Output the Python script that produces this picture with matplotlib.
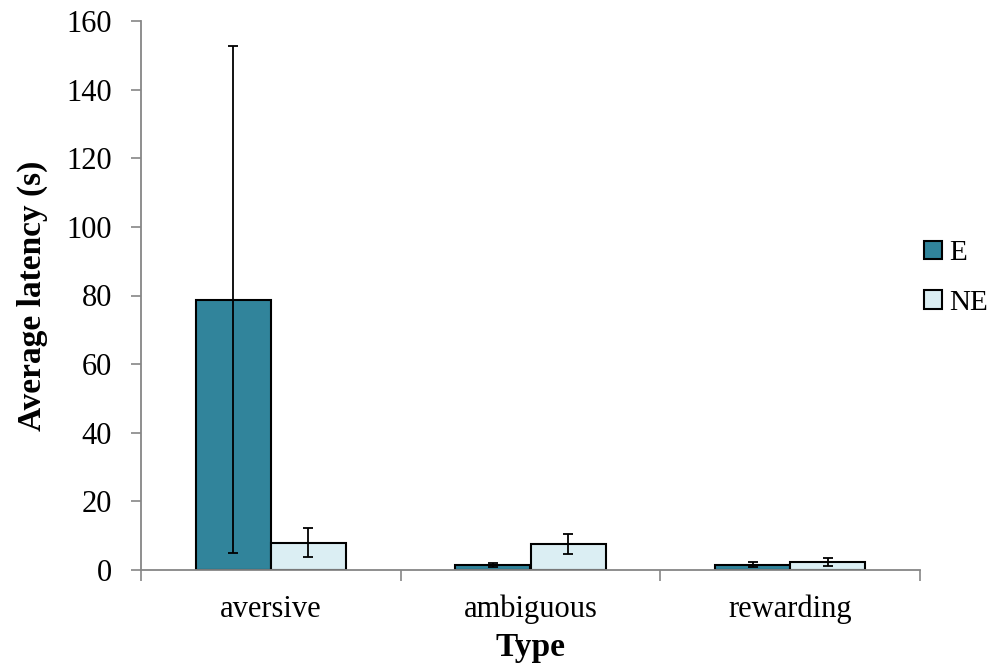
import numpy as np
import matplotlib.pyplot as plt

categories = ['aversive', 'ambiguous', 'rewarding']
e_means = [78.8, 1.4, 1.6]
e_err = [73.8, 0.5, 0.8]
ne_means = [7.9, 7.6, 2.4]
ne_err = [4.2, 2.9, 1.2]

plt.rcParams['font.family'] = ['Liberation Serif', 'DejaVu Serif']

fig = plt.figure(figsize=(9.93, 6.71), dpi=100)
ax = fig.add_axes([141 / 993, 1 - 570 / 671, 779 / 993, 549 / 671])

x = np.arange(len(categories))
w = 0.29
err_kw = dict(ecolor='black', elinewidth=1.3, capsize=3.5, capthick=1.3)
ax.bar(x - w / 2, e_means, w, yerr=e_err, color='#31849B', edgecolor='black',
       linewidth=1.5, label='E', error_kw=err_kw, zorder=2)
ax.bar(x + w / 2, ne_means, w, yerr=ne_err, color='#DBEEF3', edgecolor='black',
       linewidth=1.5, label='NE', error_kw=err_kw, zorder=2)

ax.set_xlim(-0.5, len(categories) - 0.5)
ax.set_ylim(0, 160)
ax.set_yticks(np.arange(0, 161, 20))
ax.set_xticks(x)
ax.set_xticklabels(categories)
ax.set_xticks(np.arange(-0.5, len(categories), 1), minor=True)
ax.tick_params(axis='x', which='major', length=0, labelsize=22, pad=18)
ax.tick_params(axis='x', which='minor', length=8, color='#868686', width=1.2)
ax.tick_params(axis='y', length=7, color='#868686', width=1.2, labelsize=22, pad=14)

for s in ['top', 'right']:
    ax.spines[s].set_visible(False)
for s in ['left', 'bottom']:
    ax.spines[s].set_color('#868686')
    ax.spines[s].set_linewidth(1.3)

ax.set_ylabel('Average latency (s)', fontsize=24, fontweight='bold')
ax.yaxis.set_label_coords(-0.12, 0.5)
ax.set_xlabel('Type', fontsize=24, fontweight='bold')
ax.xaxis.set_label_coords(0.5, -0.113)

fig.legend(loc='center left', bbox_to_anchor=(924 / 993, 1 - 278 / 671), frameon=False,
           fontsize=21, handlelength=0.6, handleheight=0.6, handletextpad=0.25,
           labelspacing=0.8, borderaxespad=0, borderpad=0)

fig.savefig('out.png', dpi=100)
